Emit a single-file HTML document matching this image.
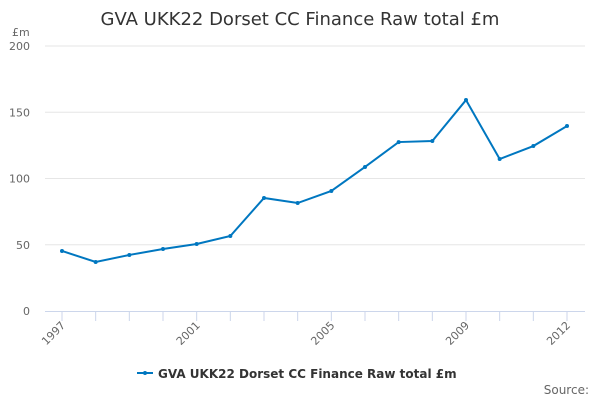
<!DOCTYPE html>
<html><head><meta charset="utf-8"><style>
body{margin:0;background:#fff;}
svg{display:block;font-family:"DejaVu Sans","Liberation Sans",sans-serif;}
</style></head><body>
<svg id="chart" width="600" height="400">
<text x="300" y="25" text-anchor="middle" font-size="18" fill="#333">GVA UKK22 Dorset CC Finance Raw total £m</text>
<text x="12" y="36" font-size="11" fill="#666">£m</text>
<g id="grid"></g><g id="xaxis"></g><g id="series"></g>
<g>
<line x1="137" y1="373" x2="153" y2="373" stroke="#0077c0" stroke-width="2"/>
<circle cx="145" cy="373" r="2" fill="#0077c0"/>
<text x="158" y="378" font-size="12" font-weight="bold" fill="#333">GVA UKK22 Dorset CC Finance Raw total £m</text>
</g>
<text x="589" y="394" text-anchor="end" font-size="12" fill="#666">Source:</text>
</svg>
<script>
const years=[1997,1998,1999,2000,2001,2002,2003,2004,2005,2006,2007,2008,2009,2010,2011,2012];
const values=[45.3,37,42.3,46.8,50.6,56.6,85.3,81.5,90.6,108.7,127.5,128.3,159.2,114.7,124.5,139.6];
const yTicks=[0,50,100,150,200];
const xLabels=[1997,2001,2005,2009,2012];
const NS="http://www.w3.org/2000/svg";
const x=v=>62+(v-1997)*(505/15);
const y=v=>311-v*1.325;
function mk(t,a,p){const e=document.createElementNS(NS,t);for(const k in a)e.setAttribute(k,a[k]);p.appendChild(e);return e;}
const grid=document.getElementById('grid'),xa=document.getElementById('xaxis'),s=document.getElementById('series');
yTicks.forEach(t=>{
 if(t>0){const l=mk('line',{x1:45,x2:585,y1:y(t),y2:y(t),stroke:'#e6e6e6'},grid);
 
 }
 const tx=mk('text',{x:30,y:y(t)+4,'text-anchor':'end','font-size':11,fill:'#666'},grid);tx.textContent=t;
 
 
});
mk('line',{x1:45,x2:585,y1:311.5,y2:311.5,stroke:'#ccd6eb'},xa);
years.forEach(yr=>{const l=mk('line',{x1:x(yr),x2:x(yr),y1:311,y2:321,stroke:'#ccd6eb'},xa);
 
 });
xLabels.forEach(yr=>{const t=mk('text',{x:x(yr)+4,y:326,'text-anchor':'end','font-size':11,fill:'#666',transform:`rotate(-45 ${x(yr)+4} 326)`},xa);t.textContent=yr;
 
 });
const p=mk('polyline',{points:years.map((yr,i)=>x(yr)+','+y(values[i])).join(' '),fill:'none',stroke:'#0077c0','stroke-width':2},s);


years.forEach((yr,i)=>{const c=mk('circle',{cx:x(yr),cy:y(values[i]),r:2,fill:'#0077c0'},s);
 
 });
</script>
</body></html>
